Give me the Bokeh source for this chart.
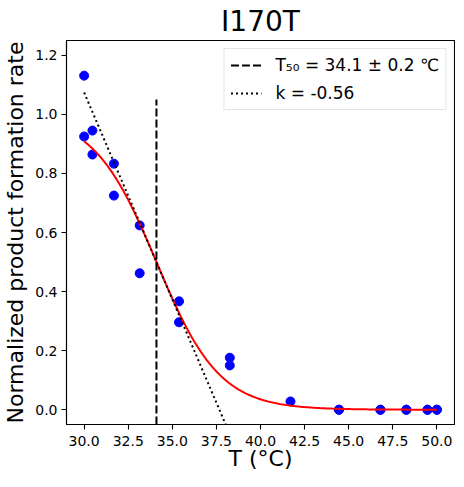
import numpy as np
from bokeh.plotting import figure
from bokeh.models import Range1d, FixedTicker, NumeralTickFormatter, Legend, LegendItem
from bokeh.embed import file_html
from bokeh.resources import INLINE

TITLE = "I170T"
T_obs = [30.0, 30.0, 30.47, 30.47, 31.69, 31.69, 33.15, 33.15, 35.38, 35.38,
         38.26, 38.26, 41.70, 44.45, 44.45, 46.80, 46.80, 48.27, 48.27,
         49.47, 49.47, 50.0, 50.0]
rate_obs = [1.131, 0.925, 0.945, 0.864, 0.833, 0.725, 0.624, 0.462, 0.367, 0.296,
            0.176, 0.150, 0.028, 0.0, 0.0, 0.0, 0.0, 0.0, 0.0,
            0.0, 0.0, 0.0, 0.0]
T50 = 34.1
T50_ERR = 0.2
K = -0.56
VLINE_TOP = 1.05
X_RANGE = (29.0, 51.0)
Y_RANGE = (-0.05, 1.25)
X_TICKS = [30.0, 32.5, 35.0, 37.5, 40.0, 42.5, 45.0, 47.5, 50.0]
Y_TICKS = [0.0, 0.2, 0.4, 0.6, 0.8, 1.0, 1.2]
X_LABEL = "T (°C)"
Y_LABEL = "Normalized product formation rate"

FONT = "DejaVu Sans"

T_fit = np.linspace(min(T_obs), max(T_obs), 300)
y_fit = 1.0 / (1.0 + np.exp(-K * (T_fit - T50)))
T_tan = np.linspace(min(T_obs), 40.0, 50)
y_tan = 0.5 + K / 4.0 * (T_tan - T50)

p = figure(frame_width=388, frame_height=384, output_backend="svg", toolbar_location=None,
           x_range=Range1d(*X_RANGE), y_range=Range1d(*Y_RANGE),
           min_border_left=59, min_border_right=1, min_border_top=33,
           min_border_bottom=20, title=TITLE)

p.title.align = "center"
p.title.text_font = FONT
p.title.text_font_size = "28px"
p.title.text_font_style = "normal"
p.title.text_color = "black"
p.title.standoff = 5

p.grid.visible = False
p.outline_line_color = "black"
p.outline_line_width = 1.1
p.outline_line_alpha = 1.0
p.background_fill_color = "white"
p.border_fill_color = "white"

p.xaxis.ticker = FixedTicker(ticks=X_TICKS)
p.yaxis.ticker = FixedTicker(ticks=Y_TICKS)
p.xaxis.formatter = NumeralTickFormatter(format="0.0")
p.yaxis.formatter = NumeralTickFormatter(format="0.0")
p.xaxis.axis_label = X_LABEL
p.yaxis.axis_label = Y_LABEL
for ax in (p.xaxis, p.yaxis):
    ax.major_tick_in = 0
    ax.major_tick_out = 5
    ax.minor_tick_in = 0
    ax.minor_tick_out = 0
    ax.major_tick_line_width = 1.1
    ax.axis_line_width = 1.1
    ax.major_label_text_font = FONT
    ax.major_label_text_font_size = "14px"
    ax.major_label_text_color = "black"
    ax.axis_label_text_font = FONT
    ax.axis_label_text_font_size = "22px"
    ax.axis_label_text_font_style = "normal"
    ax.axis_label_text_color = "black"
p.xaxis.major_label_standoff = 6
p.xaxis.axis_label_standoff = -3
p.yaxis.major_label_standoff = 4
p.yaxis.axis_label_standoff = 4

r_pts = p.scatter(T_obs, rate_obs, size=9, color="blue")
r_curve = p.line(T_fit, y_fit, line_color="red", line_width=2)
r_vline = p.line([T50, T50], [Y_RANGE[0], VLINE_TOP], line_color="black",
                 line_width=2, line_dash="8 3")
r_tan = p.line(T_tan, y_tan, line_color="black", line_width=2, line_dash="2 3")

legend = Legend(items=[
    LegendItem(label=f"T₅₀ = {T50} ± {T50_ERR} ℃", renderers=[r_vline]),
    LegendItem(label=f"k = {K}", renderers=[r_tan]),
], location="top_right")
legend.margin = 8
legend.padding = 6
legend.spacing = 8
legend.label_height = 20
legend.glyph_height = 20
legend.glyph_width = 31
legend.label_standoff = 14
legend.label_text_font = FONT
legend.label_text_font_size = "17px"
legend.label_text_color = "black"
legend.border_line_color = "#cccccc"
legend.border_line_width = 1
legend.background_fill_color = "white"
legend.background_fill_alpha = 0.8
p.add_layout(legend)

open("out.html", "w").write(file_html(p, INLINE))
